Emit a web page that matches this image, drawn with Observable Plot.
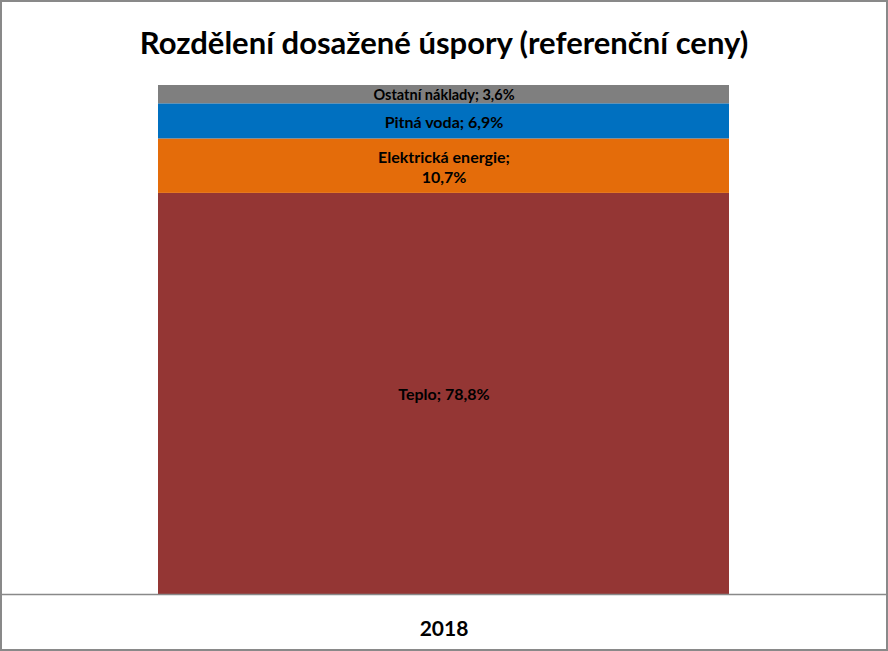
<!DOCTYPE html>
<html><head><meta charset="utf-8">
<script src="https://cdn.jsdelivr.net/npm/d3@7"></script>
<script src="https://cdn.jsdelivr.net/npm/@observablehq/plot@0.6"></script>
<style>
body{margin:0;background:#fff;}
#wrap{position:relative;width:888px;height:651px;border:2px solid #898989;box-sizing:border-box;font-family:Lato,"Open Sans",sans-serif;}
#title{height:80px;line-height:80px;text-align:center;font-size:31px;font-weight:bold;color:#000;}
</style></head>
<body><div id="wrap"><div id="title">Rozdělení dosažené úspory (referenční ceny)</div></div>
<script>
const years = ["2018"];
const categories = ["Teplo", "Elektrická energie", "Pitná voda", "Ostatní náklady"];
const values = [78.8, 10.7, 6.9, 3.6];
const colors = ["#943634", "#E46C0A", "#0070C0", "#7F7F7F"];

const data = categories.map((c, i) => ({year: years[0], category: c, value: values[i]}));
const fmt = v => v.toFixed(1).replace(".", ",") + "%";
const labelText = d => d.category === "Elektrická energie" ? d.category + ";\n" + fmt(d.value) : d.category + "; " + fmt(d.value);

const chart = Plot.plot({
  width: 884,
  height: 567,
  marginTop: 3,
  marginBottom: 55,
  marginLeft: 0,
  marginRight: 0,
  style: {fontFamily: "Lato, 'Open Sans', sans-serif", background: "#fff"},
  x: {domain: years, padding: 0.2143, axis: null},
  y: {domain: [0, 100], axis: null},
  color: {domain: categories, range: colors},
  marks: [
    Plot.barY(data, {x: "year", y: "value", fill: "category", order: null}),
    Plot.ruleY([0], {stroke: "#898989", strokeWidth: 1.5}),
    Plot.text(data, Plot.stackY({x: "year", y: "value", text: labelText, fill: "#000", fontWeight: "bold", fontSize: d => d.category === "Ostatní náklady" ? 14.5 : 16, lineHeight: 1.25})),
    Plot.text(years, {x: d => d, y: 0, dy: 35, text: d => d, fontSize: 21, fontWeight: "bold", fill: "#000"})
  ]
});
document.getElementById("wrap").appendChild(chart);
</script></body></html>
